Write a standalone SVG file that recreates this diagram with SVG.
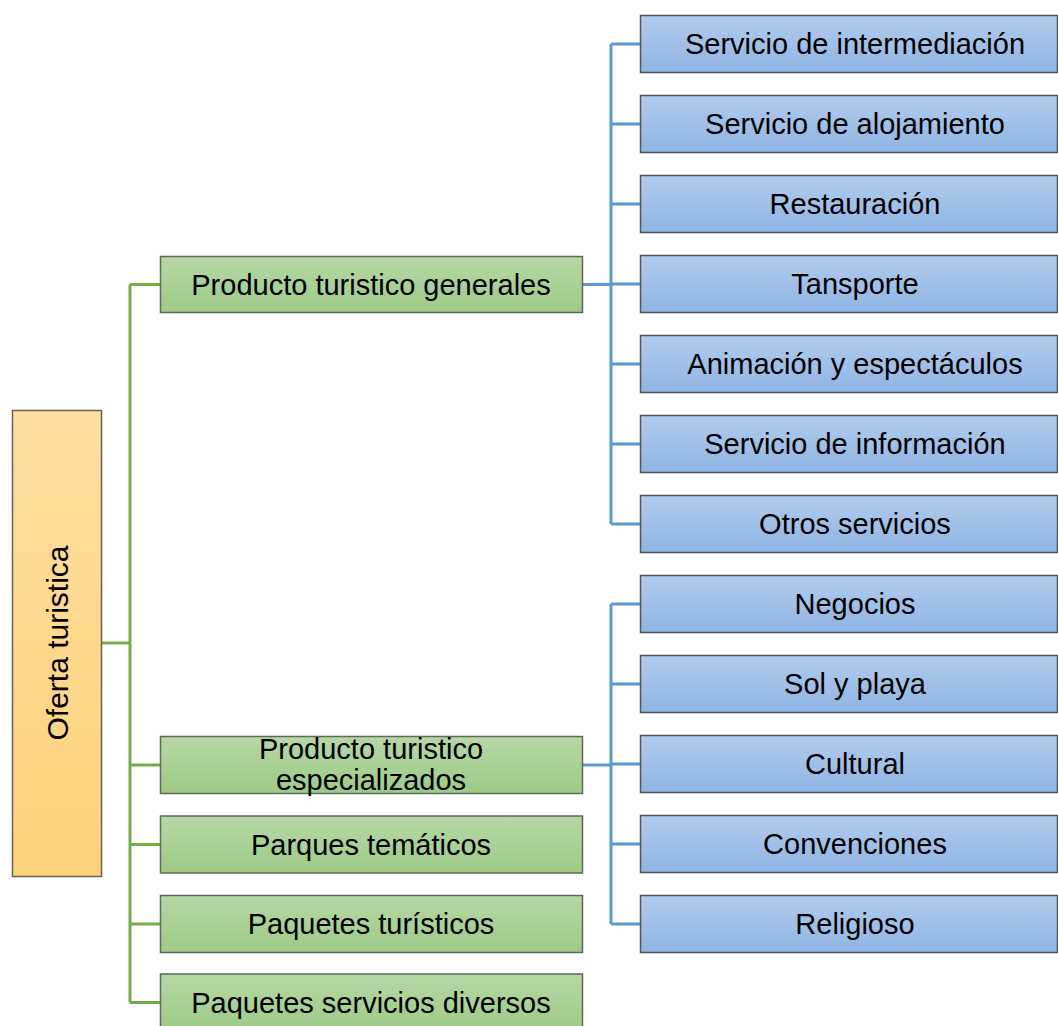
<svg xmlns="http://www.w3.org/2000/svg" width="1058" height="1026" viewBox="0 0 1058 1026">
<defs>
<linearGradient id="gGreen" x1="0" y1="0" x2="0" y2="1"><stop offset="0" stop-color="#b7d7a6"/><stop offset="1" stop-color="#9ccb86"/></linearGradient>
<linearGradient id="gBlue" x1="0" y1="0" x2="0" y2="1"><stop offset="0" stop-color="#b2cced"/><stop offset="1" stop-color="#8fb4e2"/></linearGradient>
<linearGradient id="gGold" x1="0" y1="0" x2="0" y2="1"><stop offset="0" stop-color="#fedfa0"/><stop offset="1" stop-color="#fdd27a"/></linearGradient>
</defs>
<style>
.g{fill:url(#gGreen);stroke:#5f6b55;stroke-width:1.5}
.b{fill:url(#gBlue);stroke:#4f5560;stroke-width:1.5}
.r{fill:url(#gGold);stroke:#6b6150;stroke-width:1.5}
.t{font-family:"Liberation Sans",Arial,sans-serif;font-size:29px;fill:#000;text-anchor:middle;dominant-baseline:central}
.lg{stroke:#70ad47;stroke-width:3;fill:none}
.lb{stroke:#5b9bd5;stroke-width:3;fill:none}
</style>
<g id="connectors">
<path class="lg" d="M101 643H130M130 284.5V1002.5M130 284.5H160M130 765H160M130 844.5H160M130 924H160M130 1002.5H160"/>
<path class="lb" d="M582 284.5H611M611 44V524M611 44H640M611 124H640M611 204H640M611 284H640M611 364H640M611 444H640M611 524H640"/>
<path class="lb" d="M582 765H611M611 604V924M611 604H640M611 684H640M611 764H640M611 844H640M611 924H640"/>
</g>
<g id="n-root"><rect class="r" x="12.5" y="410.5" width="89" height="466"/><text class="t" transform="translate(57 643) rotate(-90)" style="font-size:30px">Oferta turistica</text></g>
<g id="n-g1"><rect class="g" x="160.5" y="256.5" width="422" height="56"/><text class="t" x="371" y="284.5">Producto turistico generales</text></g>
<g id="n-g2"><rect class="g" x="160.5" y="736.5" width="422" height="57"/><text class="t" x="371" y="749">Producto turistico</text><text class="t" x="371" y="780">especializados</text></g>
<g id="n-g3"><rect class="g" x="160.5" y="816" width="422" height="57"/><text class="t" x="371" y="844.5">Parques temáticos</text></g>
<g id="n-g4"><rect class="g" x="160.5" y="895.5" width="422" height="57"/><text class="t" x="371" y="924">Paquetes turísticos</text></g>
<g id="n-g5"><rect class="g" x="160.5" y="974" width="422" height="57"/><text class="t" x="371" y="1002.5">Paquetes servicios diversos</text></g>
<g id="n-b1"><rect class="b" x="640.5" y="15.5" width="417" height="57"/><text class="t" x="855" y="44">Servicio de intermediación</text></g>
<g id="n-b2"><rect class="b" x="640.5" y="95.5" width="417" height="57"/><text class="t" x="855" y="124">Servicio de alojamiento</text></g>
<g id="n-b3"><rect class="b" x="640.5" y="175.5" width="417" height="57"/><text class="t" x="855" y="204">Restauración</text></g>
<g id="n-b4"><rect class="b" x="640.5" y="255.5" width="417" height="57"/><text class="t" x="855" y="284">Tansporte</text></g>
<g id="n-b5"><rect class="b" x="640.5" y="335.5" width="417" height="57"/><text class="t" x="855" y="364">Animación y espectáculos</text></g>
<g id="n-b6"><rect class="b" x="640.5" y="415.5" width="417" height="57"/><text class="t" x="855" y="444">Servicio de información</text></g>
<g id="n-b7"><rect class="b" x="640.5" y="495.5" width="417" height="57"/><text class="t" x="855" y="524">Otros servicios</text></g>
<g id="n-c1"><rect class="b" x="640.5" y="575.5" width="417" height="57"/><text class="t" x="855" y="604">Negocios</text></g>
<g id="n-c2"><rect class="b" x="640.5" y="655.5" width="417" height="57"/><text class="t" x="855" y="684">Sol y playa</text></g>
<g id="n-c3"><rect class="b" x="640.5" y="735.5" width="417" height="57"/><text class="t" x="855" y="764">Cultural</text></g>
<g id="n-c4"><rect class="b" x="640.5" y="815.5" width="417" height="57"/><text class="t" x="855" y="844">Convenciones</text></g>
<g id="n-c5"><rect class="b" x="640.5" y="895.5" width="417" height="57"/><text class="t" x="855" y="924">Religioso</text></g>
</svg>
